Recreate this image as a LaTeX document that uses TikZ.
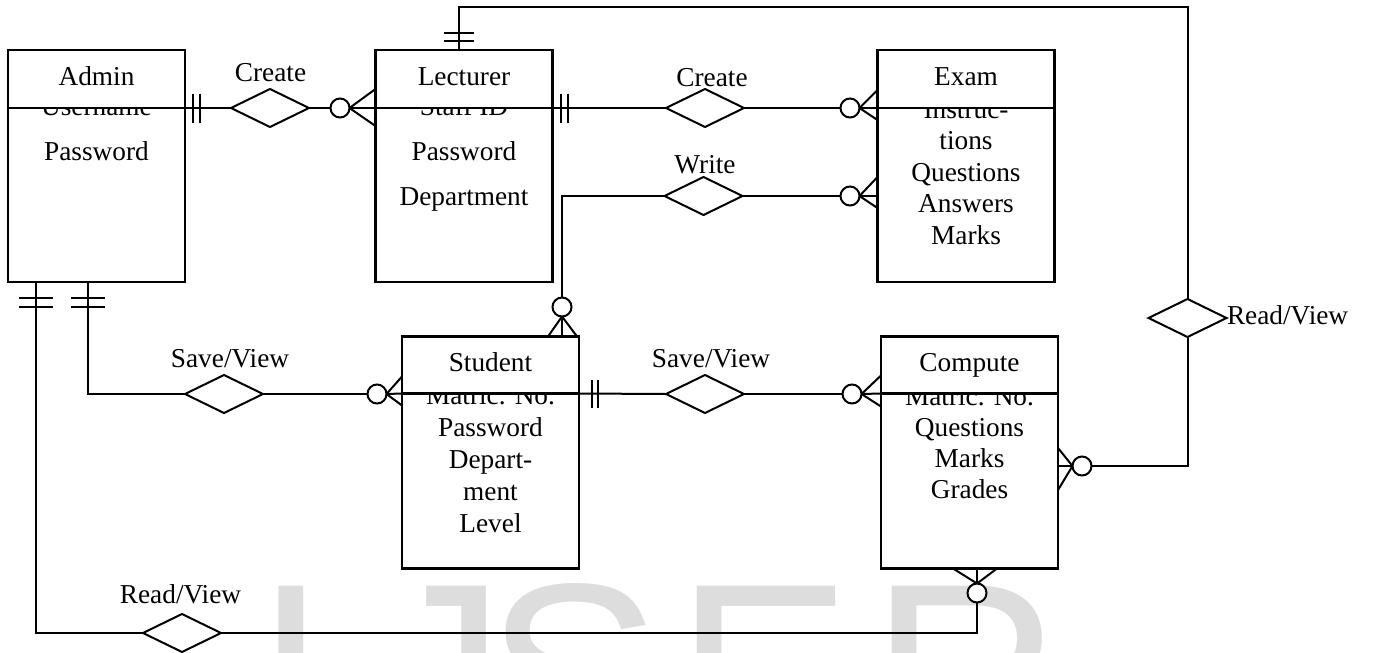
\documentclass[tikz,border=0pt]{standalone}
\usepackage{fontspec}
\setmainfont{Liberation Serif}
\newfontfamily\wmfont{Liberation Sans}
\usetikzlibrary{shapes.geometric,calc}
\definecolor{wmgray}{RGB}{221,221,221}

\begin{document}
\begin{tikzpicture}[x=1pt,y=-1pt,
  every node/.style={inner sep=0pt, outer sep=0pt, font=\fontsize{27.3}{32}\selectfont},
  conn/.style={line width=2pt},
  entity/.style={draw, line width=2.6pt, minimum width=177pt, minimum height=232pt},
  headbox/.style={draw, fill=white, line width=2.6pt, minimum width=177pt,
                  minimum height=58pt, anchor=north, text height=18pt, text depth=6pt},
  rel/.style={draw, shape=diamond, line width=2pt, fill=white,
              minimum width=78pt, minimum height=38pt},
  opt/.style={draw, circle, line width=2pt, fill=white, minimum size=19pt},
  wm/.style={text=wmgray, font=\wmfont\fontsize{265}{300}\selectfont, anchor=base}
]
\useasboundingbox (0,0) rectangle (1379,653);

% journal watermark behind everything
\begin{scope}
  \clip (0,0) rectangle (1379,653);
  \node[wm] (wmI) at (291.5,768) {I};
  \node[wm] (wmJ) at (440,768) {J};
  \node[wm] (wmS) at (573.5,768) {S};
  \node[wm] (wmE) at (764,768) {E};
  \node[wm] (wmR) at (966,768) {R};
\end{scope}

% entity boxes
\node[entity] (admin) at (96.5,166) {};
\node[entity] (lect) at (464,166) {};
\node[entity] (exam) at (966,166) {};
\node[entity] (stud) at (490.5,452.5) {};
\node[entity] (comp) at (969.5,452.5) {};

% attribute lists
\foreach \attr [count=\i from 0] in {Username,Password}
  \node[anchor=base] (adminA\i) at (96.5,{115+45*\i}) {\attr};
\foreach \attr [count=\i from 0] in {Staff ID,Password,Department}
  \node[anchor=base] (lectA\i) at (464,{115+45*\i}) {\attr};
\foreach \attr [count=\i from 0] in {Instruc-,tions,Questions,Answers,Marks}
  \node[anchor=base] (examA\i) at (966,{118+31.6*\i}) {\attr};
\foreach \attr [count=\i from 0] in {Matric. No.,Password,Depart-,ment,Level}
  \node[anchor=base] (studA\i) at (490.5,{404+32*\i}) {\attr};
\foreach \attr [count=\i from 0] in {Matric. No.,Questions,Marks,Grades}
  \node[anchor=base] (compA\i) at (969.5,{405+31*\i}) {\attr};

% entity titles
\node[headbox] (adminH) at (admin.north) {Admin};
\node[headbox] (lectH) at (lect.north) {Lecturer};
\node[headbox] (examH) at (exam.north) {Exam};
\node[headbox, minimum height=57pt] (studH) at (stud.north) {Student};
\node[headbox, minimum height=57pt] (compH) at (comp.north) {Compute};

% relationships
\node[rel] (rCreate1) at (270,108) {};
\node[rel] (rCreate2) at (705,108) {};
\node[rel] (rWrite) at (703.5,196) {};
\node[rel] (rSave1) at (224,394) {};
\node[rel] (rSave2) at (705,394) {};
\node[rel] (rRead1) at (182,633) {};
\node[rel] (rRead2) at (1187.5,318) {};

\node[anchor=base] (lCreate1) at (270.5,81) {Create};
\node[anchor=base] (lCreate2) at (712,86) {Create};
\node[anchor=base] (lWrite) at (705,173) {Write};
\node[anchor=base] (lSave1) at (230,367) {Save/View};
\node[anchor=base] (lSave2) at (711,367) {Save/View};
\node[anchor=base] (lRead1) at (180.5,603) {Read/View};
\node[anchor=base west] (lRead2) at (1227,324) {Read/View};

% optional-many markers
\node[opt] (oLect) at (340,108) {};
\node[opt] (oExam1) at (850,108) {};
\node[opt] (oExam2) at (850,196) {};
\node[opt] (oStudT) at (562,307) {};
\node[opt] (oStudL) at (377,394) {};
\node[opt] (oCompL) at (852,394) {};
\node[opt] (oCompR) at (1082,466) {};
\node[opt] (oCompB) at (977,593) {};

% Admin -- Create -- Lecturer
\draw[conn] (adminH.south east) -- (rCreate1.west);
\draw[conn] ($(adminH.south east)+(8,-14.5)$) -- ++(0,29);
\draw[conn] ($(adminH.south east)+(15,-14.5)$) -- ++(0,29);
\draw[conn] (rCreate1.east) -- (oLect.west);
\draw[conn] (oLect.east) -- (lectH.south west);
\draw[conn] (oLect.east) -- ($(lectH.south west)+(0,-19)$);
\draw[conn] (oLect.east) -- ($(lectH.south west)+(0,18)$);

% Lecturer -- Create -- Exam
\draw[conn] (lectH.south east) -- (rCreate2.west);
\draw[conn] ($(lectH.south east)+(8,-14.5)$) -- ++(0,29);
\draw[conn] ($(lectH.south east)+(15,-14.5)$) -- ++(0,29);
\draw[conn] (rCreate2.east) -- (oExam1.west);
\draw[conn] (oExam1.east) -- (examH.south west);
\draw[conn] (oExam1.east) -- ($(examH.south west)+(0,-18)$);
\draw[conn] (oExam1.east) -- ($(examH.south west)+(0,12)$);

% Student -- Write -- Exam
\draw[conn] (oExam2.west) -- (rWrite.east);
\draw[conn] (rWrite.west) -| (oStudT.north);
\draw[conn] (oExam2.east) -- (oExam2.east -| exam.west);
\draw[conn] (oExam2.east) -- ($(oExam2.east -| exam.west)+(0,-19)$);
\draw[conn] (oExam2.east) -- ($(oExam2.east -| exam.west)+(0,12)$);
\draw[conn] (oStudT.south) -- (oStudT.south |- stud.north);
\draw[conn] (oStudT.south) -- ($(oStudT.south |- stud.north)+(-14,0)$);
\draw[conn] (oStudT.south) -- ($(oStudT.south |- stud.north)+(15,0)$);

% Lecturer -- Read/View -- Compute
\coordinate (lectTop) at ($(lect.north)+(-5,0)$);
\coordinate (railTop) at (0,7);
\draw[conn] (lectTop) -- (lectTop |- railTop) -| (rRead2.north);
\draw[conn] ($(lectTop)+(-15,-17)$) -- ++(30,0);
\draw[conn] ($(lectTop)+(-15,-9)$) -- ++(30,0);
\draw[conn] (rRead2.south) |- (oCompR.east);
\draw[conn] (oCompR.west) -- (oCompR.west -| comp.east);
\draw[conn] (oCompR.west) -- ($(oCompR.west -| comp.east)+(0,-18)$);
\draw[conn] (oCompR.west) -- ($(oCompR.west -| comp.east)+(0,24)$);

% Admin -- Save/View -- Student
\coordinate (adminB2) at ($(admin.south west)+(80,0)$);
\draw[conn] (adminB2) |- (rSave1.west);
\draw[conn] ($(adminB2)+(-17,16)$) -- ++(34,0);
\draw[conn] ($(adminB2)+(-17,25)$) -- ++(34,0);
\draw[conn] (rSave1.east) -- (oStudL.west);
\draw[conn] (oStudL.east) -- (studH.south west);
\draw[conn] (oStudL.east) -- ($(studH.south west)+(0,-17)$);
\draw[conn] (oStudL.east) -- ($(studH.south west)+(0,12)$);

% Admin -- Read/View -- Compute
\coordinate (adminB1) at ($(admin.south west)+(28,0)$);
\draw[conn] (adminB1) |- (rRead1.west);
\draw[conn] ($(adminB1)+(-17,16)$) -- ++(34,0);
\draw[conn] ($(adminB1)+(-17,25)$) -- ++(34,0);
\draw[conn] (rRead1.east) -| (oCompB.south);
\draw[conn] (oCompB.north) -- (oCompB.north |- comp.south);
\draw[conn] (oCompB.north) -- ($(oCompB.north |- comp.south)+(-24,0)$);
\draw[conn] (oCompB.north) -- ($(oCompB.north |- comp.south)+(20,0)$);

% Student -- Save/View -- Compute
\draw[conn] (studH.south east) -- (rSave2.west);
\draw[conn] ($(studH.south east)+(13,-14)$) -- ++(0,28);
\draw[conn] ($(studH.south east)+(19,-14)$) -- ++(0,28);
\draw[conn] (rSave2.east) -- (oCompL.west);
\draw[conn] (oCompL.east) -- (compH.south west);
\draw[conn] (oCompL.east) -- ($(compH.south west)+(0,-18)$);
\draw[conn] (oCompL.east) -- ($(compH.south west)+(0,13)$);
\end{tikzpicture}
\end{document}
